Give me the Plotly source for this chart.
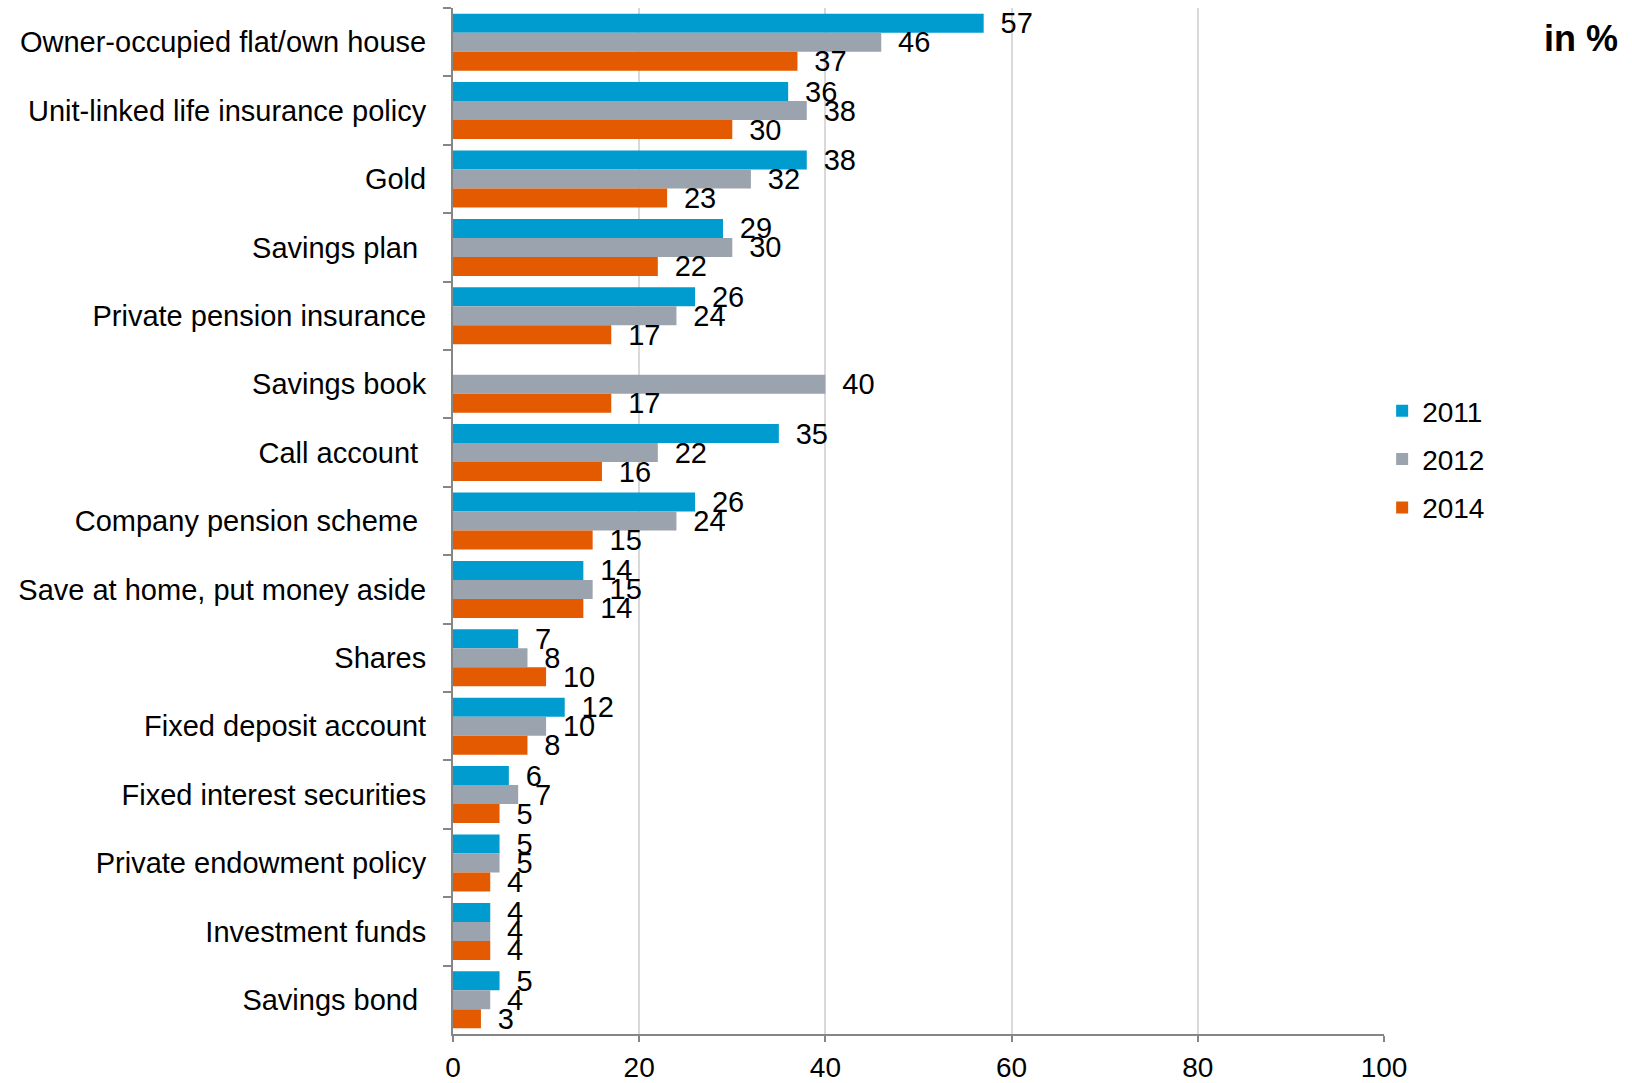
import plotly.graph_objects as go

categories = [
    "Owner-occupied flat/own house",
    "Unit-linked life insurance policy",
    "Gold",
    "Savings plan\u00a0",
    "Private pension insurance",
    "Savings book",
    "Call account\u00a0",
    "Company pension scheme\u00a0",
    "Save at home, put money aside",
    "Shares",
    "Fixed deposit account",
    "Fixed interest securities",
    "Private endowment policy",
    "Investment funds",
    "Savings bond\u00a0",
]
v2011 = [57, 36, 38, 29, 26, None, 35, 26, 14, 7, 12, 6, 5, 4, 5]
v2012 = [46, 38, 32, 30, 24, 40, 22, 24, 15, 8, 10, 7, 5, 4, 4]
v2014 = [37, 30, 23, 22, 17, 17, 16, 15, 14, 10, 8, 5, 4, 4, 3]
series = [("2011", v2011, "#009BCF"), ("2012", v2012, "#9BA4AE"), ("2014", v2014, "#E45A00")]
x_ticks = [0, 20, 40, 60, 80, 100]

FONT = "Arial, Liberation Sans, sans-serif"
FS = 29
fig = go.Figure()
for i, (name, vals, col) in enumerate(series):
    fig.add_trace(go.Bar(
        y=categories, x=vals, name=name, orientation="h",
        marker=dict(color=col, line=dict(width=0)),
        text=["\u00a0\u2009" + str(v) if v is not None else "" for v in vals],
        textposition="outside", constraintext="none", cliponaxis=False,
        textfont=dict(size=FS, color="black", family=FONT),
        legendgroup=name,
    ))

fig.update_layout(
    width=1632, height=1083,
    margin=dict(l=453, r=248, t=8, b=49, autoexpand=False),
    paper_bgcolor="white", plot_bgcolor="white",
    barmode="group", bargap=0.167, bargroupgap=0,
    font=dict(family=FONT, size=FS, color="black"),
    showlegend=True,
    legend=dict(x=0.998, xanchor="left", y=0.560, yanchor="middle",
                font=dict(size=28, family=FONT), tracegroupgap=9,
                bgcolor="rgba(0,0,0,0)"),
    annotations=[dict(text="<b>in %</b>", xref="paper", yref="paper",
                      x=1.2535, y=0.970, xanchor="right", yanchor="middle",
                      showarrow=False, font=dict(size=36, family=FONT, color="black"))],
)
fig.update_xaxes(range=[0, 100], tickvals=x_ticks, showgrid=True, gridcolor="#D9D9D9",
                 gridwidth=1.5, showline=True, linecolor="#868686", linewidth=2,
                 ticks="outside", ticklen=6, tickcolor="#868686", tickwidth=2,
                 zeroline=False, tickfont=dict(size=28), ticklabelstandoff=1,
                 automargin=False)
fig.update_yaxes(autorange="reversed", categoryorder="array", categoryarray=categories,
                 showline=True, linecolor="#868686", linewidth=2, showgrid=False,
                 ticks="outside", tickson="boundaries", ticklen=8, tickcolor="#868686",
                 tickwidth=2, tickfont=dict(size=FS), ticklabelstandoff=19,
                 automargin=False)

fig.write_html("out.html")
